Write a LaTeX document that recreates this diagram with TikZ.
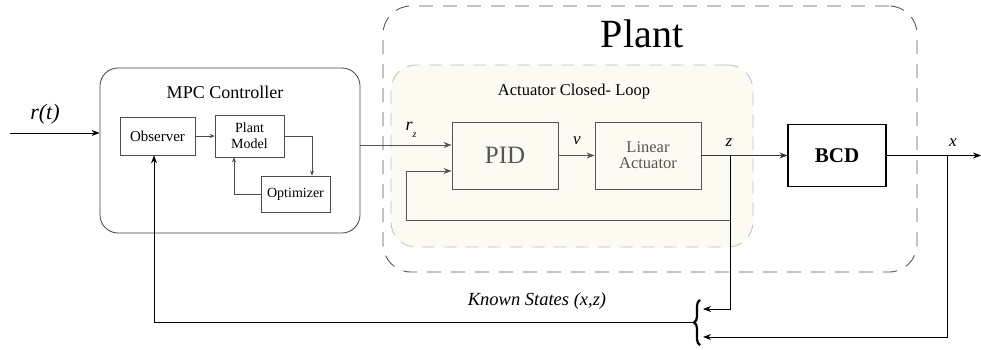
\documentclass[tikz,border=0pt]{standalone}
\usepackage{fontspec}
\setmainfont{Liberation Serif}
\usetikzlibrary{arrows.meta,decorations.pathreplacing}
\definecolor{actfill}{RGB}{251,251,242}
\definecolor{dgray}{RGB}{85,85,85}
\begin{document}
\begin{tikzpicture}[x=1pt,y=-1pt,
  arr/.style={-{Stealth[length=8pt,width=6pt]}},
  sarr/.style={-{Stealth[length=5pt,width=4pt]}},
  smallbox/.style={draw=black!70, line width=0.7pt, inner sep=0pt},
  bigbox/.style={draw=dgray, line width=0.9pt, inner sep=0pt, text=dgray},
  lbl/.style={inner sep=0pt, font=\fontsize{17}{17}\selectfont\itshape}
]
\useasboundingbox (0,0) rectangle (981,350);

% Plant (dashed)
\node[draw=black!65, dash pattern=on 14pt off 10pt, rounded corners=28pt, line width=0.9pt,
      minimum width=534pt, minimum height=266pt, inner sep=0pt] (plant) at (650,139) {};
\node[inner sep=0pt] (plantt) at (642,34) {\fontsize{40}{40}\selectfont Plant};

% Actuator closed loop
\node[draw=black!25, fill=actfill, dash pattern=on 13pt off 9pt, rounded corners=25pt, line width=0.8pt,
      minimum width=362pt, minimum height=182pt, inner sep=0pt] (act) at (572,156) {};
\node[inner sep=0pt] (actt) at (574,92) {\fontsize{16.5}{17}\selectfont Actuator Closed- Loop};

% MPC controller
\node[draw=black!75, rounded corners=18pt, line width=0.8pt,
      minimum width=260pt, minimum height=165pt, inner sep=0pt] (mpc) at (230,150.5) {};
\node[inner sep=0pt] (mpct) at (225,92) {\fontsize{18}{20}\selectfont MPC Controller};

\node[smallbox, minimum width=75pt, minimum height=38pt, font=\fontsize{15}{17}\selectfont] (obs) at (157.5,136) {Observer};
\node[smallbox, minimum width=69pt, minimum height=42pt, align=center, font=\fontsize{14}{16}\selectfont] (pm) at (249.5,136) {Plant\\Model};
\node[smallbox, minimum width=69pt, minimum height=36pt, font=\fontsize{14}{16}\selectfont] (opt) at (295.5,194) {Optimizer};

% Plant blocks
\node[bigbox, minimum width=106pt, minimum height=67pt, font=\fontsize{25}{25}\selectfont] (pid) at (505,155.5) {PID};
\node[bigbox, minimum width=106pt, minimum height=67pt, align=center, font=\fontsize{16.5}{16}\selectfont] (la) at (648,155.5) {Linear\\Actuator};
\node[draw=black, line width=1.1pt, inner sep=0pt, minimum width=98pt, minimum height=62pt,
      font=\fontsize{21}{21}\selectfont\bfseries] (bcd) at (837,155.5) {BCD};

% Input r(t)
\coordinate (rin) at (10,133);
\draw[arr, line width=0.8pt] (rin) -- (rin -| mpc.west);
\node[inner sep=0pt, font=\fontsize{22}{22}\selectfont\itshape] (rt) at (45,114) {r(t)};

% inside MPC
\draw[sarr, draw=black!70, line width=0.6pt] (obs.east) -- (pm.west);
\coordinate (pmo) at (312,136);
\draw[sarr, draw=black!70, line width=0.6pt] (pm.east) -- (pmo) -- (pmo |- opt.north);
\coordinate (opo) at (234,194);
\draw[sarr, draw=black!70, line width=0.6pt] (opt.west) -- (opo) -- (opo |- pm.south);

% MPC -> PID
\coordinate (rzs) at (360,145);
\draw[arr, draw=dgray, line width=0.8pt] (rzs) -- (rzs -| pid.west);
\node[inner sep=0pt] (rz) at (411,130) {\fontsize{18}{18}\selectfont\itshape r\raisebox{-7pt}{\fontsize{10}{10}\selectfont z}};

% PID -> LA
\draw[arr, draw=dgray, line width=0.8pt] (pid.east) -- (la.west);
\node[lbl] (vl) at (577,141) {v};

% LA -> BCD
\coordinate (zb) at (730,155.5);
\draw[arr, draw=black!80, line width=0.8pt] (la.east) -- (bcd.west);
\node[lbl] (zl) at (729,143) {z};

% inner feedback
\coordinate (fb1) at (730,220);
\coordinate (fb2) at (406,220);
\coordinate (fb3) at (406,171);
\draw[arr, draw=dgray, line width=0.8pt] (zb) -- (fb1) -- (fb2) -- (fb3) -- (fb3 -| pid.west);

% output x
\coordinate (xout) at (981,155.5);
\coordinate (xb) at (947,155.5);
\draw[arr, line width=0.8pt] (bcd.east) -- (xout);
\node[lbl] (xl) at (953,143) {x};

% brace
\draw[decorate, decoration={brace, amplitude=6pt}, line width=2.2pt] (700,345) -- (700,300);
\coordinate (brtip) at (694,322.5);
\coordinate (brR) at (703,322.5);

\coordinate (zd) at (730,309);
\draw[arr, line width=0.8pt] (zb) -- (zd) -- (zd -| brR);
\coordinate (xd) at (947,337);
\draw[arr, line width=0.9pt] (xb) -- (xd) -- (xd -| brR);

% feedback to observer
\coordinate (fo) at (154,322.5);
\draw[arr, line width=0.8pt] (brtip) -- (fo) -- (fo |- obs.south);
\node[inner sep=0pt, font=\fontsize{18.5}{19}\selectfont\itshape] (ks) at (537,301) {Known States (x,z)};
\end{tikzpicture}
\end{document}
